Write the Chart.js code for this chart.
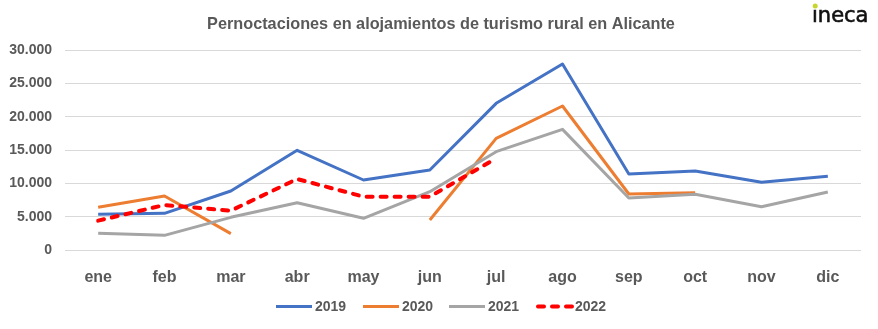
<!DOCTYPE html>
<html>
<head>
<meta charset="utf-8">
<style>
  html, body { margin: 0; padding: 0; background: #ffffff; }
  #wrap { width: 878px; height: 329px; }
</style>
<script src="https://cdn.jsdelivr.net/npm/chart.js@4/dist/chart.umd.min.js"></script>
</head>
<body>
<div id="wrap"><canvas id="c" width="878" height="329"></canvas></div>
<script>
// Monthly overnight stays in rural tourism lodgings, Alicante
const months = ['ene', 'feb', 'mar', 'abr', 'may', 'jun', 'jul', 'ago', 'sep', 'oct', 'nov', 'dic'];
const yTicks = [0, 5000, 10000, 15000, 20000, 25000, 30000];
const s2019 = [5350, 5500, 8850, 14950, 10500, 12000, 22000, 27900, 11400, 11850, 10150, 11050];
const s2020 = [6400, 8100, 2450, null, null, 4500, 16750, 21600, 8400, 8600, null, null];
const s2021 = [2500, 2200, 4900, 7100, 4750, 8750, 14750, 18100, 7800, 8350, 6500, 8700];
const s2022 = [4400, 6750, 5900, 10650, 8000, 8000, 13750, null, null, null, null, null];
const seriesNames = ['2019', '2020', '2021', '2022'];

const titleText = 'Pernoctaciones en alojamientos de turismo rural en Alicante';
const textGrey = '#595959';

function fmt(v) {
  return String(v).replace(/\B(?=(\d{3})+(?!\d))/g, '.');
}

// Title, brand mark and legend drawn onto the canvas
const decor = {
  id: 'decor',
  beforeDraw(chart) {
    const ctx = chart.ctx;
    ctx.save();
    ctx.fillStyle = '#ffffff';
    ctx.fillRect(0, 0, chart.width, chart.height);
    ctx.restore();
  },
  afterDraw(chart) {
    const ctx = chart.ctx;
    ctx.save();
    // title
    let size = 17;
    ctx.font = 'bold ' + size + 'px "Liberation Sans", Arial, sans-serif';
    const w = ctx.measureText(titleText).width;
    size = Math.min(18, size * 468 / w);
    ctx.font = 'bold ' + size.toFixed(2) + 'px "Liberation Sans", Arial, sans-serif';
    ctx.fillStyle = textGrey;
    ctx.textAlign = 'center';
    ctx.textBaseline = 'alphabetic';
    ctx.fillText(titleText, 441, 29);

    // brand mark
    ctx.font = '21px "DejaVu Sans", sans-serif';
    ctx.fillStyle = '#111111';
    ctx.textAlign = 'left';
    ctx.fillText('\u0131neca', 812, 22);
    ctx.lineWidth = 0.6;
    ctx.strokeStyle = '#111111';
    ctx.strokeText('\u0131neca', 812, 22);
    ctx.fillStyle = '#c6d62e';
    ctx.beginPath();
    ctx.arc(815.2, 6, 2.5, 0, Math.PI * 2);
    ctx.fill();

    // legend
    const items = chart.data.datasets;
    const starts = [276, 363, 449, 536];
    const y = 306.5;
    ctx.font = 'bold 14px "Liberation Sans", Arial, sans-serif';
    ctx.textBaseline = 'middle';
    items.forEach((ds, i) => {
      const x0 = starts[i];
      ctx.beginPath();
      ctx.strokeStyle = ds.borderColor;
      ctx.lineWidth = ds.borderWidth;
      ctx.lineCap = ds.borderDash ? 'round' : 'butt';
      ctx.setLineDash(ds.borderDash || []);
      ctx.moveTo(x0 + (ds.borderDash ? 2 : 0), y);
      ctx.lineTo(x0 + 36, y);
      ctx.stroke();
      ctx.setLineDash([]);
      ctx.fillStyle = textGrey;
      ctx.fillText(ds.label, x0 + 39, y + 1);
    });
    ctx.restore();
  }
};

new Chart(document.getElementById('c'), {
  type: 'line',
  data: {
    labels: months,
    datasets: [
      { label: seriesNames[0], data: s2019, borderColor: '#4472C4', borderWidth: 3, order: 4 },
      { label: seriesNames[1], data: s2020, borderColor: '#ED7D31', borderWidth: 3, order: 3 },
      { label: seriesNames[2], data: s2021, borderColor: '#A5A5A5', borderWidth: 3, order: 2 },
      { label: seriesNames[3], data: s2022, borderColor: '#FF0000', borderWidth: 4, borderDash: [6, 8], borderCapStyle: 'round', order: 1 }
    ].map(d => Object.assign({ pointRadius: 0, pointHoverRadius: 0, tension: 0, fill: false, spanGaps: false, borderJoinStyle: 'round' }, d))
  },
  options: {
    responsive: false,
    animation: false,
    devicePixelRatio: 1,
    layout: { padding: { top: 50, right: 17, bottom: 0, left: 0 } },
    plugins: {
      legend: { display: false },
      title: { display: false },
      tooltip: { enabled: false }
    },
    scales: {
      x: {
        offset: true,
        grid: { display: false },
        border: { display: false },
        ticks: {
          color: textGrey,
          padding: 10,
          maxRotation: 0,
          font: { family: '"Liberation Sans", Arial, sans-serif', size: 16, weight: 'bold' }
        },
        afterFit(s) { s.height = 79; }
      },
      y: {
        min: 0,
        max: 30000,
        afterBuildTicks(s) { s.ticks = yTicks.map(v => ({ value: v })); },
        grid: { color: '#D9D9D9', lineWidth: 1, drawTicks: false },
        border: { display: false },
        ticks: {
          color: textGrey,
          padding: 13,
          font: { family: '"Liberation Sans", Arial, sans-serif', size: 14, weight: 'bold' },
          callback: v => fmt(v)
        },
        afterFit(s) { s.width = 65; }
      }
    }
  },
  plugins: [decor]
});
</script>
</body>
</html>
